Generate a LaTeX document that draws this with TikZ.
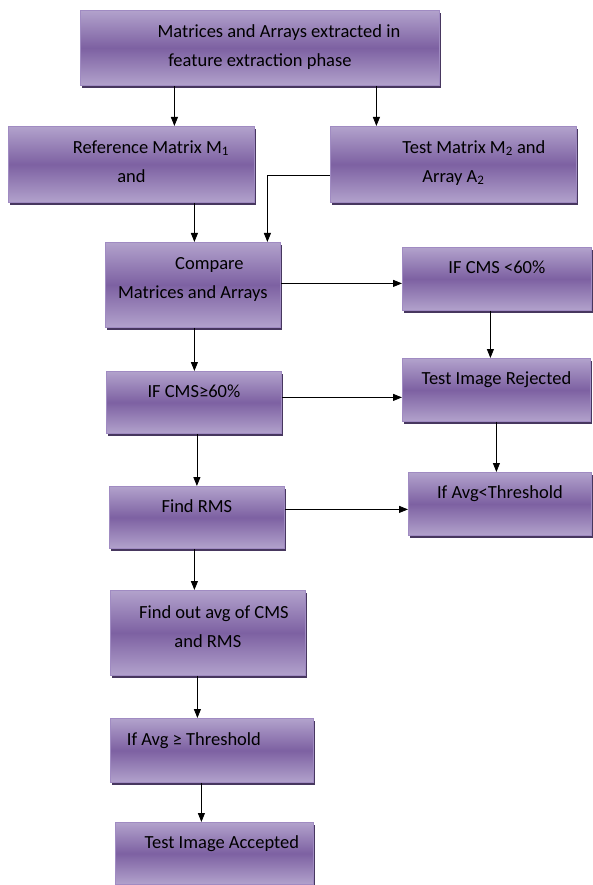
\documentclass[tikz,border=0pt]{standalone}
\usepackage{fontspec}
\setmainfont{Carlito}
\usepackage{tikz}
\usetikzlibrary{arrows.meta}
\usetikzlibrary{shadows}

\definecolor{boxlight}{HTML}{B2A2CC}
\definecolor{boxdark}{HTML}{7D61A2}
\definecolor{boxline}{HTML}{A08BC2}
\definecolor{boxshade}{HTML}{47375F}

\begin{document}
\begin{tikzpicture}[x=1pt,y=-1pt]
\tikzset{box/.style = {shape=rectangle,draw=boxline,line width=0.8pt,anchor=north west,
  top color=boxlight,bottom color=boxlight,middle color=boxdark,
  drop shadow={shadow xshift=2pt,shadow yshift=-3pt,fill=boxshade,opacity=1},
  font=\fontsize{18.5pt}{29pt}\selectfont,align=center,inner sep=0pt,
  text height=13pt,text depth=23pt}}
\tikzset{twoline/.style = {text height=#1,text depth=8pt}}
\tikzset{edge/.style = {-{Triangle[length=9pt,width=7pt]},line width=0.8pt}}
\useasboundingbox (0,0) rectangle (593,885);
\node[box,twoline=45pt,minimum width=359pt,minimum height=75pt](top) at (80,10)
  {\hspace*{38pt}Matrices and Arrays extracted in\\feature extraction phase};
\node[box,twoline=44pt,minimum width=246pt,minimum height=76pt](ref) at (8,126)
  {\hspace*{39pt}Reference Matrix M\textsubscript{1}\\and};
\node[box,twoline=44pt,minimum width=246pt,minimum height=76pt](test) at (330,126)
  {\hspace*{41pt}Test Matrix M\textsubscript{2} and\\Array A\textsubscript{2}};
\node[box,twoline=35pt,minimum width=175pt,minimum height=85pt](cmp) at (105,242)
  {\hspace*{33pt}Compare\\Matrices and Arrays};
\node[box,minimum width=189pt,minimum height=63pt](lt60) at (402,247) {IF CMS <60\%};
\node[box,minimum width=188pt,minimum height=63pt](rej) at (402,358) {Test Image Rejected};
\node[box,minimum width=175pt,minimum height=62pt](ge60) at (106,371) {IF CMS≥60\%};
\node[box,minimum width=183pt,minimum height=63pt](avglt) at (408,472) {If Avg<Threshold};
\node[box,minimum width=175pt,minimum height=62pt](rms) at (109,486) {Find RMS};
\node[box,twoline=37pt,minimum width=195pt,minimum height=85pt](avg) at (110,590)
  {\hspace*{12pt}Find out avg of CMS\\and RMS};
\node[box,minimum width=203pt,minimum height=64pt](ge) at (110,718)
  {If Avg ≥ Threshold\hspace*{36pt}};
\node[box,minimum width=198pt,minimum height=62pt](acc) at (115,822)
  {\hspace*{15pt}Test Image Accepted};
\draw[edge] ([xshift=-85.5pt]top.south) -- ([xshift=-85.5pt]top.south |- ref.north);
\draw[edge] ([xshift=116.5pt]top.south) -- ([xshift=116.5pt]top.south |- test.north);
\draw[edge] ([xshift=1.5pt]cmp.north |- ref.south) -- ([xshift=1.5pt]cmp.north);
\draw[edge] ([yshift=-11pt]test.west) -| ([xshift=74.5pt]cmp.north);
\draw[edge] ([yshift=1.5pt]cmp.east) -- ([yshift=1.5pt]cmp.east -| lt60.west);
\draw[edge] ([xshift=-6.5pt]lt60.south) -- ([xshift=-6.5pt]lt60.south |- rej.north);
\draw[edge] ([xshift=1.5pt]cmp.south) -- ([xshift=1.5pt]cmp.south |- ge60.north);
\draw[edge] ([yshift=5pt]ge60.east) -- ([yshift=5pt]ge60.east -| rej.west);
\draw[edge] (rej.south) -- (rej.south |- avglt.north);
\draw[edge] (rms.north |- ge60.south) -- (rms.north);
\draw[edge] ([yshift=8pt]rms.east) -- ([yshift=8pt]rms.east -| avglt.west);
\draw[edge] ([xshift=-2.5pt]rms.south) -- ([xshift=-2.5pt]rms.south |- avg.north);
\draw[edge] ([xshift=-10.5pt]avg.south) -- ([xshift=-10.5pt]avg.south |- ge.north);
\draw[edge] ([xshift=-10.5pt]ge.south) -- ([xshift=-10.5pt]ge.south |- acc.north);
\end{tikzpicture}
\end{document}
